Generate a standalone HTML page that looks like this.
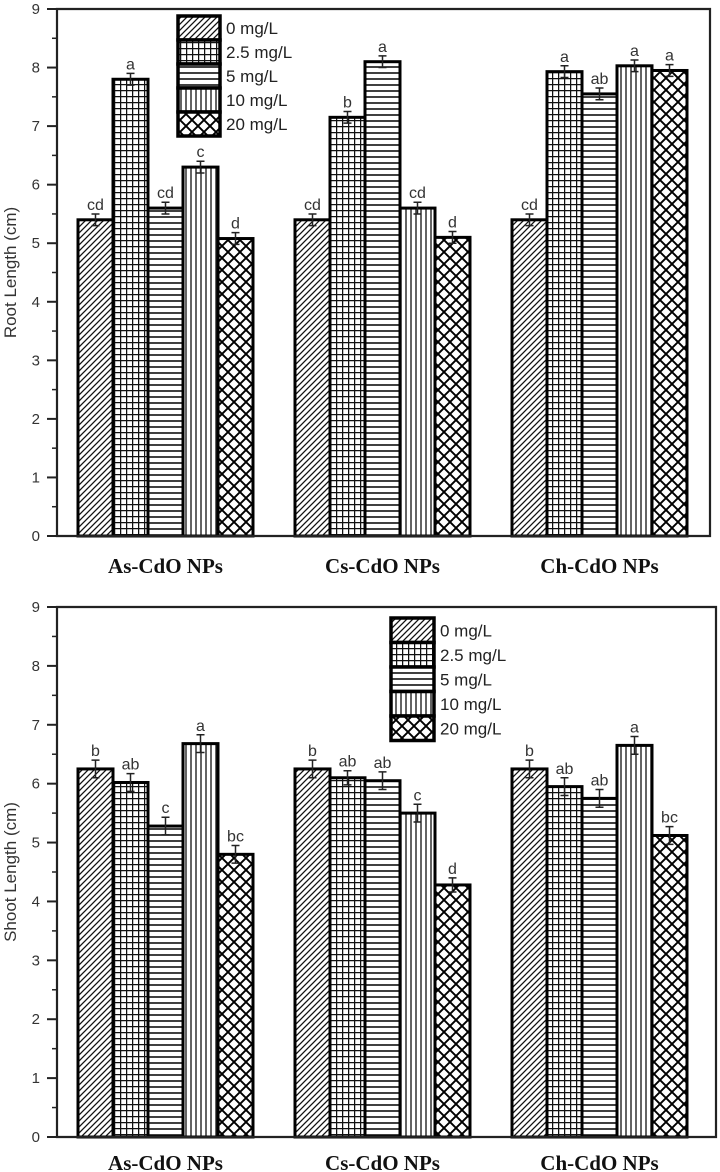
<!DOCTYPE html>
<html><head><meta charset="utf-8"><style>
html,body{margin:0;padding:0;background:#fff;}
svg{display:block;font-family:"Liberation Sans",sans-serif;}
</style></head><body>
<svg id="c" width="720" height="1172" xmlns="http://www.w3.org/2000/svg">
<defs>
<pattern id="p0" width="6" height="6" patternUnits="userSpaceOnUse"><rect width="6" height="6" fill="#fff"/><path d="M-1,7 L7,-1 M-1,1 L1,-1 M5,7 L7,5" stroke="#111" stroke-width="1.3"/></pattern>
<pattern id="p1" width="6" height="6" patternUnits="userSpaceOnUse"><rect width="6" height="6" fill="#fff"/><path d="M0,0.5 H6 M0.5,0 V6" stroke="#111" stroke-width="1.5"/></pattern>
<pattern id="p2" width="6" height="6" patternUnits="userSpaceOnUse"><rect width="6" height="6" fill="#fff"/><path d="M0,1 H6" stroke="#111" stroke-width="1.6"/></pattern>
<pattern id="p3" width="5" height="6" patternUnits="userSpaceOnUse"><rect width="5" height="6" fill="#fff"/><path d="M1,0 V6" stroke="#222" stroke-width="1.4"/></pattern>
<pattern id="p4" width="12" height="12" patternUnits="userSpaceOnUse"><rect width="12" height="12" fill="#fff"/><path d="M0,0 L12,12 M12,0 L0,12" stroke="#000" stroke-width="1.9"/></pattern>
</defs>
</svg>
<script>
const categories=["As-CdO NPs","Cs-CdO NPs","Ch-CdO NPs"];
const seriesNames=["0 mg/L","2.5 mg/L","5 mg/L","10 mg/L","20 mg/L"];
const rootValues=[[5.4,7.8,5.6,6.3,5.08],[5.4,7.15,8.1,5.6,5.1],[5.4,7.93,7.55,8.03,7.95]];
const rootErrors=[[0.1,0.1,0.1,0.1,0.1],[0.1,0.1,0.1,0.1,0.1],[0.1,0.1,0.1,0.1,0.1]];
const rootLetters=[["cd","a","cd","c","d"],["cd","b","a","cd","d"],["cd","a","ab","a","a"]];
const shootValues=[[6.25,6.02,5.28,6.68,4.8],[6.25,6.1,6.05,5.5,4.28],[6.25,5.95,5.75,6.65,5.12]];
const shootErrors=[[0.15,0.15,0.15,0.15,0.15],[0.15,0.12,0.15,0.15,0.12],[0.15,0.15,0.15,0.15,0.15]];
const shootLetters=[["b","ab","c","a","bc"],["b","ab","ab","c","d"],["b","ab","ab","a","bc"]];
const yTicks=[0,1,2,3,4,5,6,7,8,9];

const svg=document.getElementById('c');
const NS="http://www.w3.org/2000/svg";
function mk(tag,attrs,parent){const e=document.createElementNS(NS,tag);for(const k in attrs)e.setAttribute(k,attrs[k]);(parent||svg).appendChild(e);return e;}

function drawPanel(cfg,values,errors,letters){
  const g=mk('g',{});
  
  
  const y=v=>cfg.y0-(v/9)*(cfg.y0-cfg.y9);
  const groupX=i=>cfg.gx0+i*cfg.gstep;
  const bw=cfg.bw;
  values.forEach((vals,ci)=>{
    vals.forEach((v,si)=>{
      const x=groupX(ci)+si*bw;
      const r=mk('rect',{x:x,y:y(v),width:bw,height:y(0)-y(v),fill:'url(#p'+si+')',stroke:'#000','stroke-width':3},g);
      
      
      const e=errors[ci][si],cx=x+bw/2;
      const eb=mk('path',{d:`M${cx},${y(v+e)} V${y(v-e)} M${cx-4},${y(v+e)} H${cx+4} M${cx-4},${y(v-e)} H${cx+4}`,stroke:'#222','stroke-width':1.5,fill:'none'},g);
      
      
      const t=mk('text',{x:cx,y:y(v+e)-4,'text-anchor':'middle','font-size':16,fill:'#333'},g);
      t.textContent=letters[ci][si];
      
      
    });
    const cl=mk('text',{x:groupX(ci)+bw*2.5,y:cfg.catY,'text-anchor':'middle','font-size':21,'font-weight':'bold','font-family':'"Liberation Serif",serif',fill:'#111'},g);
    cl.textContent=categories[ci];
    
    
  });
  const fr=mk('path',{d:`M${cfg.xl},${cfg.y9} H${cfg.xr} V${cfg.y0} H${cfg.xl} Z`,fill:'none',stroke:'#222','stroke-width':2.2},g);
  
  
  yTicks.forEach(t=>{
    const ty=y(t);
    mk('line',{x1:cfg.xl-10,x2:cfg.xl,y1:ty,y2:ty,stroke:'#222','stroke-width':2},g);
    if(t<9){mk('line',{x1:cfg.xl-5,x2:cfg.xl,y1:y(t+0.5),y2:y(t+0.5),stroke:'#222','stroke-width':1.5},g);}
    const tl=mk('text',{x:cfg.xl-17,y:ty+5,'text-anchor':'end','font-size':15,fill:'#333'},g);
    tl.textContent=t;
    
    
  });
  const at=mk('text',{x:0,y:0,'text-anchor':'middle','font-size':17,fill:'#333',transform:`translate(${cfg.titleX},${(cfg.y0+cfg.y9)/2}) rotate(-90)`},g);
  at.textContent=cfg.title;
  
  
  const lg=mk('g',{},g);
  
  
  seriesNames.forEach((n,si)=>{
    const ly=cfg.legY+si*cfg.legH;
    const lr=mk('rect',{x:cfg.legX,y:ly,width:cfg.legW,height:cfg.legH,fill:'url(#p'+si+')',stroke:'#000','stroke-width':3.5},lg);
    
    
    const lt=mk('text',{x:cfg.legX+cfg.legW+6,y:ly+cfg.legH/2+6,'font-size':17,fill:'#222'},lg);
    lt.textContent=n;
    
    
  });
}
drawPanel({name:'root-length-panel',y0:536,y9:9,xl:57,xr:710,gx0:78,gstep:217,bw:35,catY:573,titleX:16,title:'Root Length (cm)',legX:178,legY:16,legW:42,legH:24},rootValues,rootErrors,rootLetters);
drawPanel({name:'shoot-length-panel',y0:1137,y9:607,xl:57,xr:716,gx0:78,gstep:217,bw:35,catY:1170,titleX:16,title:'Shoot Length (cm)',legX:391,legY:618,legW:43,legH:24.5},shootValues,shootErrors,shootLetters);
</script>
</body></html>
